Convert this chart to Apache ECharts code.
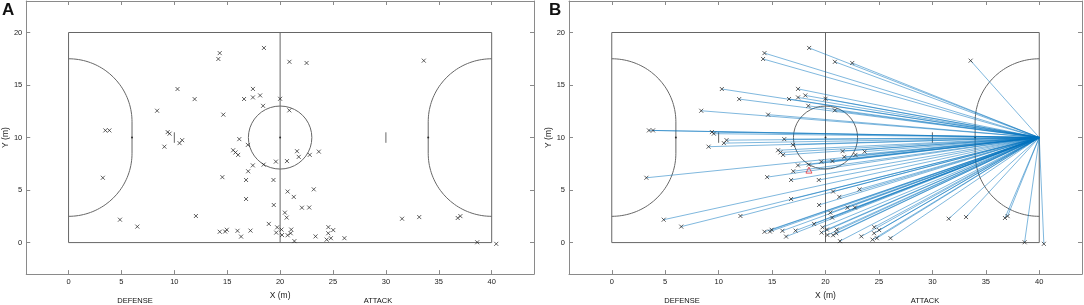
<!DOCTYPE html>
<html>
<head>
<meta charset="utf-8">
<script src="https://cdn.jsdelivr.net/npm/echarts@6/dist/echarts.min.js"></script>
<style>
  html, body { margin: 0; padding: 0; background: #fff; }
  #chart { width: 1084px; height: 305px; }
</style>
</head>
<body>
<div id="chart"></div>
<script>
// shot positions (m)
var shotX = [3.48, 3.86, 3.24, 4.86, 6.5, 8.37, 9.06, 9.37, 9.55, 10.49, 10.74, 10.3, 11.92, 12.04,
  14.16, 14.29, 14.63, 14.54, 14.29, 14.8, 14.96, 15.97, 16.31, 17.2, 16.59, 17.43, 17.43, 18.11,
  18.47, 18.39, 20.0, 16.14, 16.95, 15.56, 15.78, 16.03, 17.42, 18.44, 16.98, 16.78, 19.6, 19.37,
  16.78, 19.4, 18.93, 19.72, 19.63, 20.88, 22.5, 20.87, 21.6, 21.76, 22.8, 23.66, 20.65, 20.71,
  21.29, 23.18, 22.06, 22.75, 20.45, 20.62, 20.13, 20.18, 20.71, 21.05, 21.0, 21.35, 23.35, 24.56,
  24.55, 25.02, 24.4, 24.8, 26.08, 31.53, 33.15, 36.79, 37.04, 33.58, 38.63, 40.43]
var shotY = [10.68, 10.68, 6.17, 2.18, 1.52, 12.55, 9.13, 10.52, 10.37, 9.47, 9.75, 14.62, 13.66, 2.53,
  17.48, 18.04, 12.18, 6.23, 1.03, 1.05, 1.22, 1.12, 0.57, 1.14, 13.67, 14.63, 13.82, 14.01,
  18.53, 13.02, 13.69, 9.85, 9.3, 8.79, 8.58, 8.35, 7.35, 7.42, 6.79, 5.96, 7.71, 5.96,
  4.15, 3.58, 1.78, 1.45, 0.95, 17.21, 17.1, 12.59, 8.7, 8.16, 8.35, 8.66, 7.76, 4.86,
  4.35, 5.07, 3.32, 3.34, 2.85, 2.38, 1.24, 0.72, 0.7, 1.24, 0.89, 0.14, 0.59, 1.47,
  0.89, 1.19, 0.28, 0.42, 0.42, 2.27, 2.43, 2.34, 2.52, 17.32, 0.03, -0.12]
// red triangle in panel B
var markX = [18.45]
var markY = [6.9]
// goal centre that the lines in B run to
var goalX = 40
var goalY = 10

var xTicks = [0, 5, 10, 15, 20, 25, 30, 35, 40]
var yTicks = [0, 5, 10, 15, 20]

var LINE = '#666'
var FRAME = '#8a8a8a'
var FONT = 'Liberation Sans, Arial, sans-serif'

function arc(cx, cy, r, a0, a1) {
  var pts = []
  for (var i = 0; i <= 40; i++) {
    var a = (a0 + (a1 - a0) * i / 40) * Math.PI / 180
    pts.push([cx + r * Math.cos(a), cy + r * Math.sin(a)])
  }
  return pts
}

function courtPieces() {
  var left = arc(0, 11.5, 6, 90, 0).concat(arc(0, 8.5, 6, 0, -90))
  var right = left.map(function(p) { return [40 - p[0], p[1]] })
  return [
    [[0, 0], [40, 0], [40, 20], [0, 20], [0, 0]],
    [[20, 0], [20, 20]],
    arc(20, 10, 3, 0, 360),
    left,
    right,
    [[10, 9.5], [10, 10.5]],
    [[30, 9.5], [30, 10.5]]
  ]
}

function courtSeries(ax) {
  var out = courtPieces().map(function(pts) {
    return {
      type: 'line', xAxisIndex: ax, yAxisIndex: ax, data: pts, symbol: 'none',
      silent: true, animation: false, z: 2,
      lineStyle: { color: LINE, width: 1 }
    }
  })
  out.push({
    type: 'scatter', xAxisIndex: ax, yAxisIndex: ax, symbolSize: 2, silent: true,
    animation: false, z: 3, data: [[6, 10], [20, 10], [34, 10]],
    itemStyle: { color: '#111' }
  })
  return out
}

function shotSeries(ax) {
  return {
    type: 'scatter', xAxisIndex: ax, yAxisIndex: ax, animation: false, z: 6,
    symbol: 'path://M0,0L1,1M1,0L0,1', symbolSize: 4,
    itemStyle: { color: 'rgba(0,0,0,0)', borderColor: '#222', borderWidth: 0.9 },
    data: shotX.map(function(x, i) { return [x, shotY[i]] })
  }
}

function axesFor(gi) {
  var tick = { show: true, inside: true, length: 4, lineStyle: { color: FRAME } }
  var line = { show: true, onZero: false, lineStyle: { color: FRAME, width: 1 } }
  var xs = [
    {
      type: 'value', gridIndex: gi, min: -4, max: 44, position: 'bottom',
      axisLine: line, splitLine: { show: false },
      axisTick: Object.assign({ customValues: xTicks }, tick),
      axisLabel: { customValues: xTicks, color: '#222', fontSize: 7.5, fontFamily: FONT, margin: 4 },
      name: 'X (m)', nameLocation: 'middle', nameGap: 15,
      nameTextStyle: { color: '#222', fontSize: 8.5, fontFamily: FONT }
    },
    {
      type: 'value', gridIndex: gi, min: -4, max: 44, position: 'top',
      axisLine: line, splitLine: { show: false }, axisLabel: { show: false },
      axisTick: Object.assign({ customValues: xTicks }, tick)
    }
  ]
  var ys = [
    {
      type: 'value', gridIndex: gi, min: -3, max: 23, position: 'left',
      axisLine: line, splitLine: { show: false },
      axisTick: Object.assign({ customValues: yTicks }, tick),
      axisLabel: { customValues: yTicks, color: '#222', fontSize: 7.5, fontFamily: FONT, margin: 4 },
      name: 'Y (m)', nameLocation: 'middle', nameGap: 15,
      nameTextStyle: { color: '#222', fontSize: 8.5, fontFamily: FONT }
    },
    {
      type: 'value', gridIndex: gi, min: -3, max: 23, position: 'right',
      axisLine: line, splitLine: { show: false }, axisLabel: { show: false },
      axisTick: Object.assign({ customValues: yTicks }, tick)
    }
  ]
  return { xs: xs, ys: ys }
}

var a = axesFor(0)
var b = axesFor(1)

var series = []
  .concat(courtSeries(0), [shotSeries(0)])
  .concat(courtSeries(2), [shotSeries(2)])

series.push({
  type: 'lines', coordinateSystem: 'cartesian2d', xAxisIndex: 2, yAxisIndex: 2,
  animation: false, z: 4, silent: true,
  lineStyle: { color: '#0072BD', opacity: 0.5, width: 1 },
  data: shotX.map(function(x, i) { return { coords: [[x, shotY[i]], [goalX, goalY]] } })
})
series.push({
  type: 'scatter', xAxisIndex: 2, yAxisIndex: 2, animation: false, z: 7,
  symbol: 'triangle', symbolSize: 6,
  itemStyle: { color: 'rgba(0,0,0,0)', borderColor: '#e0303a', borderWidth: 1 },
  data: markX.map(function(x, i) { return [x, markY[i]] })
})

function label(text, x, y, size, bold) {
  return {
    type: 'text', left: x, top: y,
    style: { text: text, fill: '#111', font: (bold ? 'bold ' : '') + size + 'px ' + FONT }
  }
}

function note(text, x) {
  return {
    type: 'text', x: x, y: 301,
    style: { text: text, fill: '#111', font: '7.5px ' + FONT, align: 'center', verticalAlign: 'middle' }
  }
}

var chart = echarts.init(document.getElementById('chart'), null, { renderer: 'canvas' })
chart.setOption({
  animation: false,
  grid: [
    { left: 22, top: 1, width: 512, height: 278 },
    { left: 569, top: 1, width: 513, height: 278 }
  ],
  xAxis: a.xs.concat(b.xs.map(function(o) { return Object.assign({}, o, { gridIndex: 1 }) })),
  yAxis: a.ys.concat(b.ys.map(function(o) { return Object.assign({}, o, { gridIndex: 1 }) })),
  series: series,
  graphic: [
    label('A', 2, 2, 17, true),
    label('B', 549, 2, 17, true),
    note('DEFENSE', 135),
    note('ATTACK', 378),
    note('DEFENSE', 682),
    note('ATTACK', 925)
  ]
})
</script>
</body>
</html>
